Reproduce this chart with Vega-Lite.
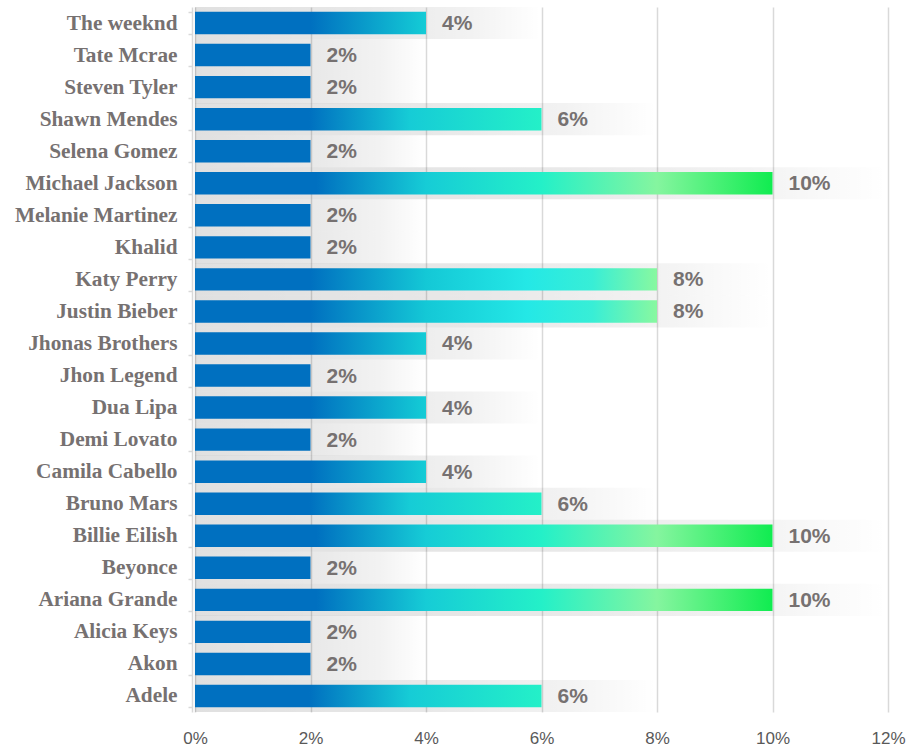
{
  "$schema": "https://vega.github.io/schema/vega-lite/v6.json",
  "width": 693,
  "height": 705,
  "autosize": "none",
  "padding": {"left": 195, "top": 7, "right": 25, "bottom": 41},
  "background": "white",
  "config": {"view": {"stroke": null}},
  "data": {"values": [
    {"artist": "The weeknd", "share": 0.04},
    {"artist": "Tate Mcrae", "share": 0.02},
    {"artist": "Steven Tyler", "share": 0.02},
    {"artist": "Shawn Mendes", "share": 0.06},
    {"artist": "Selena Gomez", "share": 0.02},
    {"artist": "Michael Jackson", "share": 0.10},
    {"artist": "Melanie Martinez", "share": 0.02},
    {"artist": "Khalid", "share": 0.02},
    {"artist": "Katy Perry", "share": 0.08},
    {"artist": "Justin Bieber", "share": 0.08},
    {"artist": "Jhonas Brothers", "share": 0.04},
    {"artist": "Jhon Legend", "share": 0.02},
    {"artist": "Dua Lipa", "share": 0.04},
    {"artist": "Demi Lovato", "share": 0.02},
    {"artist": "Camila Cabello", "share": 0.04},
    {"artist": "Bruno Mars", "share": 0.06},
    {"artist": "Billie Eilish", "share": 0.10},
    {"artist": "Beyonce", "share": 0.02},
    {"artist": "Ariana Grande", "share": 0.10},
    {"artist": "Alicia Keys", "share": 0.02},
    {"artist": "Akon", "share": 0.02},
    {"artist": "Adele", "share": 0.06}
  ]},
  "encoding": {
    "y": {
      "field": "artist", "type": "nominal", "sort": null,
      "scale": {"paddingInner": 0.3, "paddingOuter": 0.15},
      "axis": {
        "title": null, "domainColor": "#d9d9d9", "domainWidth": 1.5, "offset": 3,
        "tickColor": "#d9d9d9", "tickWidth": 1.5, "tickSize": 4, "tickBand": "extent",
        "labelFont": "Liberation Serif", "labelFontWeight": "bold", "labelFontSize": 21.3,
        "labelColor": "#767171", "labelPadding": 11, "grid": false
      }
    },
    "x": {
      "field": "share", "type": "quantitative",
      "scale": {"domain": [0, 0.12], "nice": false},
      "axis": {
        "title": null, "format": ".0%", "values": [0, 0.02, 0.04, 0.06, 0.08, 0.1, 0.12],
        "domain": false, "ticks": false, "grid": true, "gridColor": "#d9d9d9", "gridWidth": 1.5,
        "labelFont": "Liberation Sans", "labelFontSize": 17, "labelColor": "#595959",
        "labelPadding": 18, "labelFlush": false
      }
    }
  },
  "layer": [
    {
      "mark": {"type": "bar", "height": {"band": 1.43}, "x2Offset": 115,
        "fill": {"gradient": "linear", "x1": 0, "y1": 0, "x2": 1, "y2": 0, "stops": [
          {"offset": 0, "color": "rgba(0,0,0,0.12)"},
          {"offset": 0.5, "color": "rgba(0,0,0,0.09)"},
          {"offset": 0.8, "color": "rgba(0,0,0,0.05)"},
          {"offset": 1, "color": "rgba(0,0,0,0)"}
        ]}},
      "encoding": {
        "x": {"datum": 0, "type": "quantitative"},
        "x2": {"field": "share"}
      }
    },
    {
      "transform": [{"filter": "datum.share < 0.03"}],
      "mark": {"type": "bar", "fill": "#0070c0"}
    },
    {
      "transform": [{"filter": "datum.share > 0.03 && datum.share < 0.05"}],
      "mark": {"type": "bar",
        "fill": {"gradient": "linear", "x1": 0, "y1": 0, "x2": 1, "y2": 0, "stops": [
          {"offset": 0, "color": "#0070c0"},
          {"offset": 0.5, "color": "#0070c0"},
          {"offset": 1, "color": "#14ccd6"}
        ]}}
    },
    {
      "transform": [{"filter": "datum.share > 0.05 && datum.share < 0.07"}],
      "mark": {"type": "bar",
        "fill": {"gradient": "linear", "x1": 0, "y1": 0, "x2": 1, "y2": 0, "stops": [
          {"offset": 0, "color": "#0070c0"},
          {"offset": 0.33, "color": "#0070c0"},
          {"offset": 0.62, "color": "#16ccd6"},
          {"offset": 1, "color": "#24f0c8"}
        ]}}
    },
    {
      "transform": [{"filter": "datum.share > 0.07 && datum.share < 0.09"}],
      "mark": {"type": "bar",
        "fill": {"gradient": "linear", "x1": 0, "y1": 0, "x2": 1, "y2": 0, "stops": [
          {"offset": 0, "color": "#0070c0"},
          {"offset": 0.25, "color": "#0070c0"},
          {"offset": 0.5, "color": "#14c8d6"},
          {"offset": 0.72, "color": "#24e8e6"},
          {"offset": 0.86, "color": "#38eed6"},
          {"offset": 1, "color": "#88f8a0"}
        ]}}
    },
    {
      "transform": [{"filter": "datum.share > 0.09"}],
      "mark": {"type": "bar",
        "fill": {"gradient": "linear", "x1": 0, "y1": 0, "x2": 1, "y2": 0, "stops": [
          {"offset": 0, "color": "#0070c0"},
          {"offset": 0.21, "color": "#0070c0"},
          {"offset": 0.4, "color": "#16ccd6"},
          {"offset": 0.6, "color": "#24f0c8"},
          {"offset": 0.8, "color": "#85f59f"},
          {"offset": 1, "color": "#10ec50"}
        ]}}
    },
    {
      "mark": {"type": "text", "align": "left", "baseline": "middle", "dx": 16, "dy": 1,
        "font": "Liberation Sans", "fontWeight": "bold", "fontSize": 21, "fill": "#767171"},
      "encoding": {"text": {"field": "share", "format": ".0%"}}
    }
  ]
}
